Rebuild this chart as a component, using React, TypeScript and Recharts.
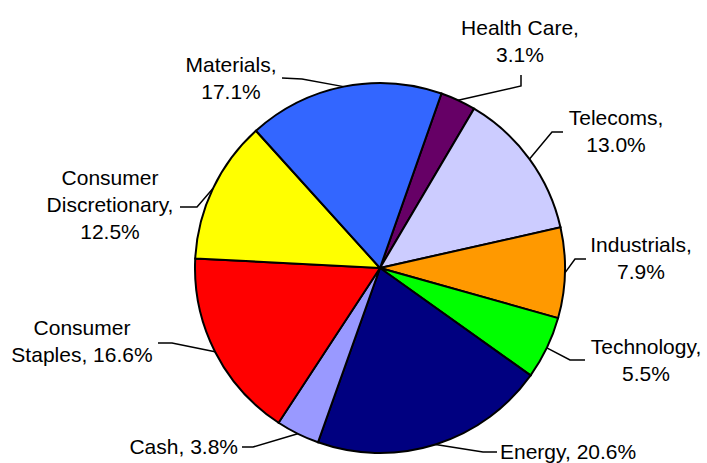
import React from "react";
import { PieChart, Pie, Cell } from "recharts";

// sectors, clockwise from the top
const sectors = [
  "Health Care",
  "Telecoms",
  "Industrials",
  "Technology",
  "Energy",
  "Cash",
  "Consumer Staples",
  "Consumer Discretionary",
  "Materials",
];
const weights = [3.1, 13.0, 7.9, 5.5, 20.6, 3.8, 16.6, 12.5, 17.1];
const colors = [
  "#660066",
  "#CCCCFF",
  "#FF9900",
  "#00FF00",
  "#000080",
  "#9999FF",
  "#FF0000",
  "#FFFF00",
  "#3366FF",
];

// label layout, relative to the pie centre: elbow, line end, text x, first baseline
type LabelPos = {
  ex: number;
  ey: number;
  hx: number;
  hy: number;
  tx: number;
  ty: number;
  anchor: "middle" | "start" | "end";
  mode: "two" | "one" | "split";
};
const labelLayout: LabelPos[] = [
  { ex: 141, ey: -182, hx: 141, hy: -193, tx: 140, ty: -233, anchor: "middle", mode: "two" },
  { ex: 172, ey: -136, hx: 183, hy: -136, tx: 236, ty: -143, anchor: "middle", mode: "two" },
  { ex: 195, ey: -9, hx: 206, hy: -9, tx: 261, ty: -16, anchor: "middle", mode: "two" },
  { ex: 190, ey: 92, hx: 205, hy: 92, tx: 266, ty: 86, anchor: "middle", mode: "two" },
  { ex: 103, ey: 184, hx: 117, hy: 184, tx: 120, ty: 191, anchor: "start", mode: "one" },
  { ex: -127, ey: 179, hx: -138, hy: 179, tx: -142, ty: 186, anchor: "end", mode: "one" },
  { ex: -208, ey: 75, hx: -222, hy: 75, tx: -298, ty: 67, anchor: "middle", mode: "split" },
  { ex: -183, ey: -61, hx: -200, hy: -61, tx: -270, ty: -83, anchor: "middle", mode: "split" },
  { ex: -78, ey: -189, hx: -98, hy: -190, tx: -149, ty: -196, anchor: "middle", mode: "two" },
];

const data = sectors.map((name, i) => ({ name, value: weights[i] }));

const RAD = Math.PI / 180;
const LINE_H = 27;

const labelLines = (name: string, pct: string, mode: LabelPos["mode"]) => {
  if (mode === "one") return [`${name}, ${pct}`];
  if (mode === "two") return [`${name},`, pct];
  const words = name.split(" ");
  if (words[1] === "Staples") return [words[0], `${words[1]}, ${pct}`];
  return [words[0], `${words.slice(1).join(" ")},`, pct];
};

const renderLabel = (props: any) => {
  const { cx, cy, midAngle, outerRadius, index } = props;
  const lay = labelLayout[index];
  const sx = cx + outerRadius * Math.cos(-midAngle * RAD);
  const sy = cy + outerRadius * Math.sin(-midAngle * RAD);
  const pct = `${weights[index].toFixed(1)}%`;
  const lines = labelLines(sectors[index], pct, lay.mode);
  return (
    <g key={`lbl-${index}`}>
      <polyline
        points={`${sx},${sy} ${cx + lay.ex},${cy + lay.ey} ${cx + lay.hx},${cy + lay.hy}`}
        fill="none"
        stroke="#000"
        strokeWidth={1.5}
      />
      <text
        x={cx + lay.tx}
        y={cy + lay.ty}
        textAnchor={lay.anchor}
        fill="#000"
        fontSize={21}
        fontFamily="'Liberation Sans', Arial, sans-serif"
      >
        {lines.map((l, k) => (
          <tspan key={k} x={cx + lay.tx} y={cy + lay.ty + k * LINE_H}>
            {l}
          </tspan>
        ))}
      </text>
    </g>
  );
};

export default function App() {
  return (
    <div style={{ position: "absolute", left: 0, top: 0, background: "#fff" }}>
      <PieChart width={707} height={463} margin={{ top: 0, right: 0, bottom: 0, left: 0 }}>
        <Pie
          data={data}
          dataKey="value"
          nameKey="name"
          cx={380}
          cy={268}
          outerRadius={185}
          startAngle={70.6}
          endAngle={-289.4}
          stroke="#000"
          strokeWidth={2}
          label={renderLabel}
          labelLine={false}
          isAnimationActive={false}
        >
          {data.map((d, i) => (
            <Cell key={d.name} fill={colors[i]} />
          ))}
        </Pie>
      </PieChart>
    </div>
  );
}
